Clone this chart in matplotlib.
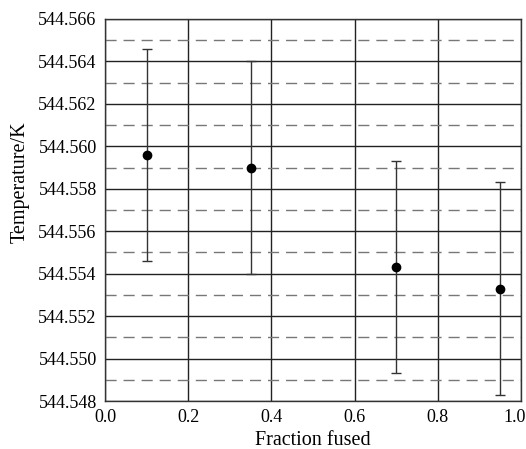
import numpy as np
import matplotlib.pyplot as plt
from matplotlib.ticker import MultipleLocator, FormatStrFormatter
from matplotlib.transforms import ScaledTranslation

plt.rcParams['font.family'] = ['Liberation Serif', 'DejaVu Serif']

# data
frac = [0.10, 0.35, 0.70, 0.95]
temp = [544.5596, 544.5590, 544.5543, 544.5533]
err = [0.0050, 0.0050, 0.0050, 0.0050]

fig = plt.figure(figsize=(5.26, 4.49), dpi=100)
ax = fig.add_axes([0.1996, 0.1069, 0.791, 0.8508])

ax.errorbar(frac, temp, yerr=err, fmt='o', color='black', ms=6,
            ecolor='#333333', elinewidth=1.0, capsize=3.3, capthick=1.0, zorder=3)

ax.set_xlim(0.0, 1.0)
ax.set_ylim(544.548, 544.566)
ax.xaxis.set_major_locator(MultipleLocator(0.2))
ax.yaxis.set_major_locator(MultipleLocator(0.002))
ax.yaxis.set_minor_locator(MultipleLocator(0.001))
ax.xaxis.set_major_formatter(FormatStrFormatter('%.1f'))
ax.yaxis.set_major_formatter(FormatStrFormatter('%.3f'))

ax.grid(True, which='major', color='#222222', lw=1.0, ls='-')
ax.grid(True, which='minor', axis='y', color='#777777', lw=1.0, ls=(0, (8, 5)))
ax.set_axisbelow(True)

ax.tick_params(which='both', length=0, labelsize=13, pad=6)
for s in ax.spines.values():
    s.set_color('#333333')
    s.set_linewidth(1.0)

ax.set_xlabel('Fraction fused', fontsize=14.5, labelpad=3)
ax.set_ylabel('Temperature/K', fontsize=14.5, labelpad=6)
ax.yaxis.label.set_y(0.573)

# keep the last x label inside the figure, as in the original
fig.canvas.draw()
for tick in ax.xaxis.get_major_ticks():
    if tick.label1.get_text() == '1.0':
        lab = tick.label1
        lab.set_horizontalalignment('right')
        lab.set_transform(lab.get_transform() + ScaledTranslation(0.05, 0, fig.dpi_scale_trans))

fig.savefig('out.png', dpi=100)
